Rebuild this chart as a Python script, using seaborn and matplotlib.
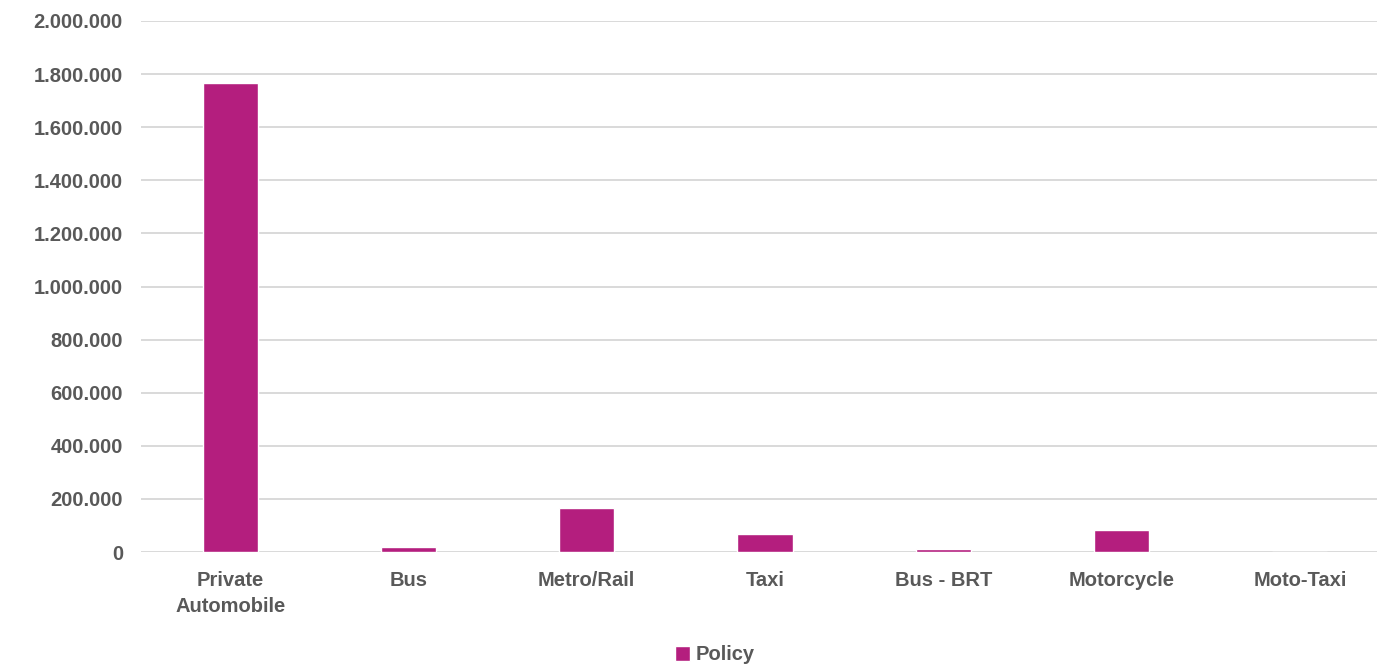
import matplotlib
matplotlib.use("Agg")
import matplotlib.pyplot as plt
import matplotlib.ticker as mticker
import seaborn as sns
import pandas as pd

categories = ["Private\nAutomobile", "Bus", "Metro/Rail", "Taxi", "Bus - BRT", "Motorcycle", "Moto-Taxi"]
policy = [1767000, 19000, 164000, 68000, 11000, 84000, 0]
series_name = "Policy"
y_ticks = list(range(0, 2000001, 200000))

sns.set_theme(style="white")
plt.rcParams["font.family"] = ["Liberation Sans Narrow", "Liberation Sans", "DejaVu Sans"]

text_color = "#595959"
bar_color = "#B41E7E"
font_size = 14.5

df = pd.DataFrame({"mode": categories, "value": policy, "series": series_name})

fig = plt.figure(figsize=(13.77, 6.66), dpi=100)
ax = fig.add_axes([141 / 1377, 1 - 552 / 666, 1248 / 1377, (552 - 21) / 666])

sns.barplot(data=df, x="mode", y="value", hue="series", palette=[bar_color],
            width=0.31, ax=ax, legend=True, saturation=1)

ax.set_ylim(0, 2000000)
ax.set_yticks(y_ticks)
ax.yaxis.set_major_formatter(mticker.FuncFormatter(lambda v, p: f"{int(v):,}".replace(",", ".")))
ax.grid(axis="y", color="#D9D9D9", linewidth=1.4)
ax.set_axisbelow(True)
for s in ax.spines.values():
    s.set_visible(False)
ax.set_xlabel("")
ax.set_ylabel("")
ax.tick_params(axis="both", length=0, labelsize=font_size, colors=text_color)
ax.tick_params(axis="x", pad=14)
ax.tick_params(axis="y", pad=13)
for lbl in ax.get_xticklabels() + ax.get_yticklabels():
    lbl.set_fontweight("bold")
    lbl.set_color(text_color)
for lbl in ax.get_xticklabels():
    lbl.set_linespacing(1.45)

ax.legend(loc="center", bbox_to_anchor=(715 / 1377, 1 - 655 / 666), bbox_transform=fig.transFigure,
          frameon=False, handlelength=0.75, handleheight=0.75, handletextpad=0.3,
          prop={"weight": "bold", "size": font_size})
for t in ax.get_legend().get_texts():
    t.set_color(text_color)

fig.savefig("out.png", dpi=100)
